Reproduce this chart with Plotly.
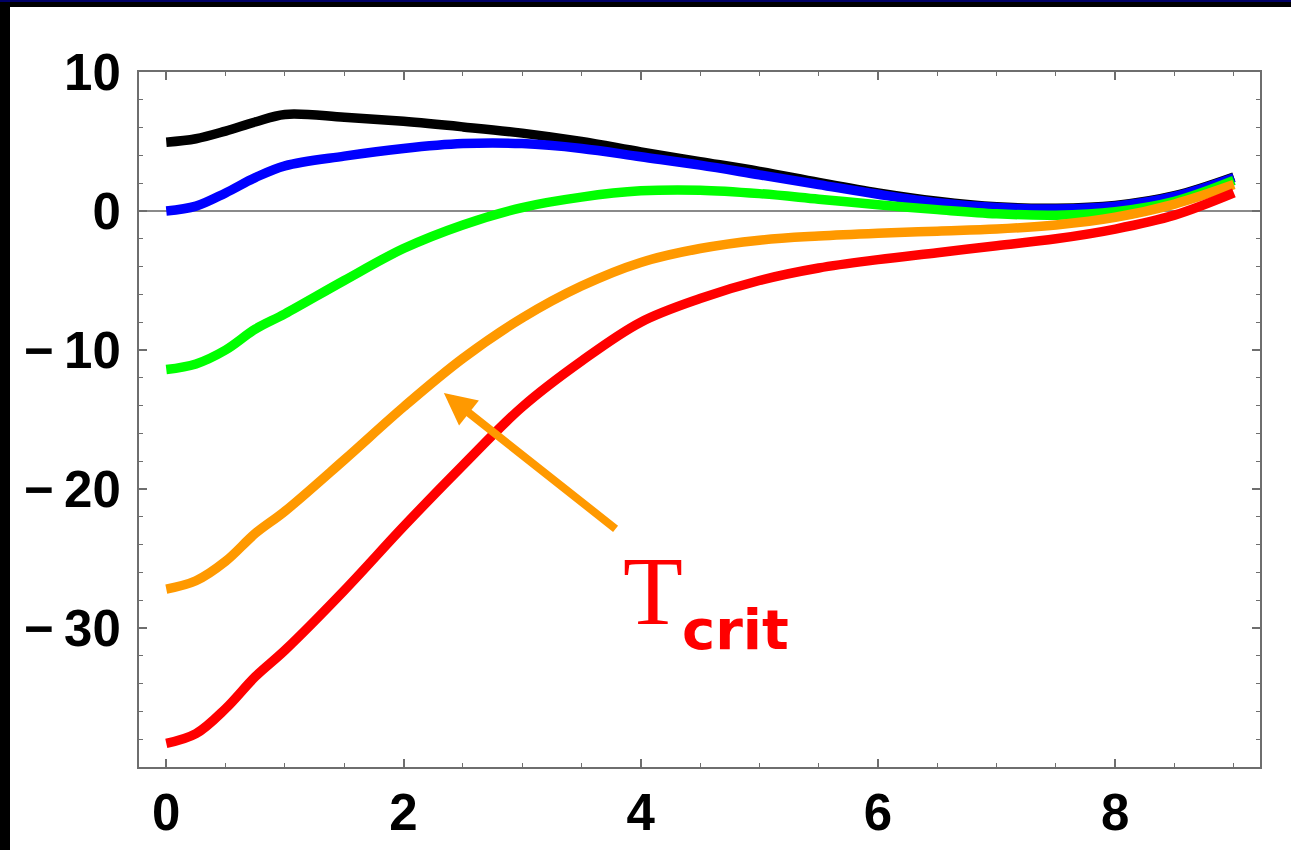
import plotly.graph_objects as go

# ---- data ----
x_vals = [0, 0.25, 0.5, 0.75, 1.0, 1.5, 2, 2.5, 3, 3.5, 4, 4.5, 5, 5.5, 6, 6.5, 7, 7.5, 8, 8.5, 9]
black_vals = [4.95, 5.2, 5.75, 6.4, 6.95, 6.75, 6.45, 6.05, 5.6, 5.0, 4.25, 3.55, 2.85, 2.05, 1.3, 0.7, 0.3, 0.2, 0.4, 1.1, 2.45]
blue_vals = [0.0, 0.35, 1.3, 2.4, 3.25, 3.95, 4.5, 4.85, 4.85, 4.5, 3.9, 3.3, 2.6, 1.9, 1.2, 0.6, 0.25, 0.15, 0.35, 1.05, 2.4]
green_vals = [-11.4, -11.0, -10.0, -8.5, -7.4, -5.0, -2.7, -1.0, 0.25, 1.0, 1.45, 1.5, 1.25, 0.85, 0.45, 0.1, -0.2, -0.3, -0.05, 0.7, 2.2]
orange_vals = [-27.2, -26.6, -25.2, -23.2, -21.6, -17.9, -14.1, -10.6, -7.7, -5.4, -3.7, -2.7, -2.1, -1.8, -1.6, -1.45, -1.3, -1.0, -0.45, 0.5, 1.9]
red_vals = [-38.3, -37.6, -35.8, -33.5, -31.6, -27.3, -22.7, -18.3, -14.1, -10.8, -8.0, -6.3, -5.0, -4.1, -3.5, -3.0, -2.5, -2.0, -1.3, -0.3, 1.3]

x_ticks = [0, 2, 4, 6, 8]
y_ticks = [-30, -20, -10, 0, 10]

label_main = "T"
label_sub = "crit"
arrow_head = (2.34, -13.1)
arrow_tail = (3.80, -22.95)

# ---- figure ----
W, H = 1291, 850
L, R, T, B = 139, 31, 72, 83
PW, PH = W - L - R, H - T - B


def px2paper_x(px):
    return (px - L) / PW


def px2paper_y(py):
    return (H - B - py) / PH


fig = go.Figure()
series = [
    (black_vals, "#000000"),
    (blue_vals, "#0000FF"),
    (green_vals, "#00FF00"),
    (orange_vals, "#FF9900"),
    (red_vals, "#FF0000"),
]
for vals, col in series:
    fig.add_trace(go.Scatter(
        x=x_vals, y=vals, mode="lines",
        line=dict(color=col, width=9.5, shape="spline", smoothing=1.0),
        showlegend=False, hoverinfo="skip",
    ))

tickfont = dict(family="Liberation Sans, Arial, sans-serif", size=51, color="black", weight="bold")
axis_common = dict(
    showgrid=False, showline=True, linecolor="#6e6e6e", linewidth=2,
    mirror="ticks", ticks="inside", ticklen=8, tickwidth=1.5, tickcolor="#6e6e6e",
    tickfont=tickfont, automargin=False,
)

fig.update_xaxes(
    range=[-0.23, 9.22], tickmode="array", tickvals=x_ticks,
    ticktext=[str(v) for v in x_ticks], zeroline=False,
    minor=dict(dtick=0.5, tick0=0, ticks="inside", ticklen=4, tickwidth=1.2, tickcolor="#6e6e6e"),
    ticklabelstandoff=0,
    **axis_common,
)
fig.update_yaxes(
    range=[-40, 10], tickmode="array", tickvals=y_ticks,
    ticktext=[("\u2212\u2009" + str(-v)) if v < 0 else str(v) for v in y_ticks],
    zeroline=True, zerolinecolor="#8a8a8a", zerolinewidth=2,
    minor=dict(dtick=2, tick0=0, ticks="inside", ticklen=4, tickwidth=1.2, tickcolor="#6e6e6e"),
    ticklabelstandoff=6,
    **axis_common,
)

# arrow
fig.add_annotation(
    x=arrow_head[0], y=arrow_head[1], ax=arrow_tail[0], ay=arrow_tail[1],
    xref="x", yref="y", axref="x", ayref="y", text="",
    showarrow=True, arrowhead=2, arrowsize=0.8, arrowwidth=8, arrowcolor="#FF9900",
    standoff=0, startstandoff=0,
)
# T_crit label
fig.add_annotation(
    x=4.1, y=-27.34, xref="x", yref="y", text=label_main, showarrow=False,
    xanchor="center", yanchor="middle",
    font=dict(family="Liberation Serif, Times New Roman, serif", size=98, color="#FF0000"),
)
fig.add_annotation(
    x=4.33, y=-30.1, xref="x", yref="y", text=label_sub, showarrow=False,
    xanchor="left", yanchor="middle",
    font=dict(family="DejaVu Sans, sans-serif", size=56, color="#FF0000", weight="bold"),
)

# slide frame: black left bar and top bar with thin dark-blue edge
fig.add_shape(type="rect", xref="paper", yref="paper",
              x0=px2paper_x(0), x1=px2paper_x(10), y0=px2paper_y(H), y1=px2paper_y(0),
              fillcolor="black", line_width=0)
fig.add_shape(type="rect", xref="paper", yref="paper",
              x0=px2paper_x(0), x1=px2paper_x(W), y0=px2paper_y(7), y1=px2paper_y(0),
              fillcolor="black", line_width=0)
fig.add_shape(type="rect", xref="paper", yref="paper",
              x0=px2paper_x(0), x1=px2paper_x(W), y0=px2paper_y(2), y1=px2paper_y(0),
              fillcolor="#000066", line_width=0)

fig.update_layout(
    width=W, height=H,
    margin=dict(l=L, r=R, t=T, b=B, pad=0, autoexpand=False),
    paper_bgcolor="white", plot_bgcolor="white",
    showlegend=False,
)

fig.write_html(
    "out.html",
    config={"displayModeBar": False},
    post_script=(
        "document.documentElement.style.background='white';"
        "document.documentElement.style.overflow='hidden';"
        "document.body.style.background='white';"
        "document.body.style.margin='0';"
        "document.body.style.padding='0';"
        "document.body.style.overflow='hidden';"
        "document.body.style.width='1291px';"
        "document.body.style.height='850px';"
    ),
)
